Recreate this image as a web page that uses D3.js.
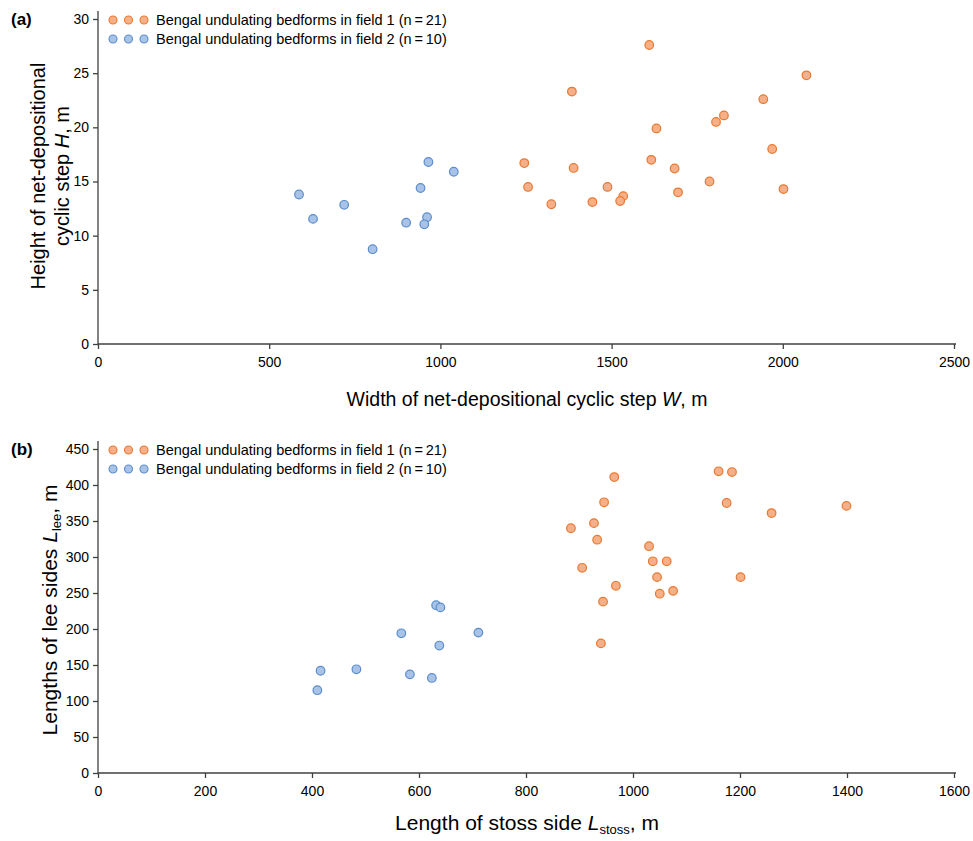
<!DOCTYPE html>
<html>
<head>
<meta charset="utf-8">
<script src="https://cdn.jsdelivr.net/npm/d3@7"></script>
<style>
  body { margin: 0; background: #fff; }
  text { font-family: "Liberation Sans", Arial, sans-serif; fill: #000; }
</style>
</head>
<body>
<script>
// panel (a): width W vs height H
var widthField1 = [1610, 1384, 2069, 1943, 1828, 1805, 1631, 1969, 1245, 1389, 1616,
                   1684, 1256, 1488, 1786, 2002, 1694, 1534, 1525, 1324, 1444];
var heightField1 = [27.6, 23.3, 24.8, 22.6, 21.1, 20.5, 19.9, 18.0, 16.7, 16.25, 17.0,
                    16.2, 14.5, 14.5, 15.0, 14.3, 14.0, 13.65, 13.2, 12.9, 13.1];
var widthField2 = [965, 1039, 942, 900, 961, 953, 802, 587, 628, 719];
var heightField2 = [16.8, 15.9, 14.4, 11.2, 11.7, 11.05, 8.75, 13.8, 11.55, 12.85];

// panel (b): stoss length vs lee length
var stossField1 = [884, 927, 933, 965, 946, 905, 968, 944, 940, 1030, 1037,
                   1063, 1045, 1050, 1075, 1160, 1185, 1175, 1259, 1201, 1399];
var leeField1 = [340, 347, 324, 411, 376, 285, 260, 238, 180, 315, 294,
                 294, 272, 249, 253, 419, 418, 375, 361, 272, 371];
var stossField2 = [410, 416, 483, 567, 583, 624, 632, 640, 638, 711];
var leeField2 = [115, 142, 144, 194, 137, 132, 233, 230, 177, 195];

var xTicksA = [0, 500, 1000, 1500, 2000, 2500];
var yTicksA = [0, 5, 10, 15, 20, 25, 30];
var xTicksB = [0, 200, 400, 600, 800, 1000, 1200, 1400, 1600];
var yTicksB = [0, 50, 100, 150, 200, 250, 300, 350, 400, 450];

var legendLabels = ["Bengal undulating bedforms in field 1 (n\u2009=\u200921)",
                    "Bengal undulating bedforms in field 2 (n\u2009=\u200910)"];

var orange = { fill: "#f5b08a", stroke: "#e8792f" };
var blue = { fill: "#a8c3e6", stroke: "#5b8dcc" };

var svg = d3.select("body").append("svg")
  .attr("width", 973)
  .attr("height", 841);

function zip(xs, ys) {
  return xs.map(function(d, i) { return [d, ys[i]]; });
}

function panel(opt) {
  var x = d3.scaleLinear().domain(opt.xDomain).range([98, 954]);
  var y = d3.scaleLinear().domain(opt.yDomain).range([opt.bottom, opt.top]);
  var g = svg.append("g");

  var xAxis = g.append("g")
    .attr("transform", "translate(0," + opt.bottom + ")")
    .call(d3.axisBottom(x).tickValues(opt.xTicks).tickFormat(d3.format("d"))
      .tickSize(5).tickSizeOuter(0));
  var yAxis = g.append("g")
    .attr("transform", "translate(98,0)")
    .call(d3.axisLeft(y).tickValues(opt.yTicks).tickFormat(d3.format("d"))
      .tickSize(5).tickSizeOuter(0));

  [xAxis, yAxis].forEach(function(a) {
    a.selectAll("path, line").attr("stroke", "#404040").attr("stroke-width", 1.3);
    a.selectAll("text").attr("font-size", 14)
      .attr("font-family", "'Liberation Sans', Arial, sans-serif").attr("fill", "#000");
  });
  xAxis.select(".domain").attr("d", "M98,0H956");
  yAxis.select(".domain").attr("d", "M0," + (opt.top - 8) + "V" + opt.bottom);
  xAxis.selectAll(".tick text").attr("dy", "1.05em");
  yAxis.selectAll(".tick text").attr("x", -9);

  // points
  var series = [{ data: zip(opt.x1, opt.y1), c: orange }, { data: zip(opt.x2, opt.y2), c: blue }];
  series.forEach(function(s) {
    g.append("g").selectAll("circle")
      .data(s.data)
      .enter().append("circle")
        .attr("cx", function(d) { return x(d[0]); })
        .attr("cy", function(d) { return y(d[1]); })
        .attr("r", 4.3)
        .attr("fill", s.c.fill)
        .attr("stroke", s.c.stroke)
        .attr("stroke-width", 1.2);
  });

  // legend
  var leg = g.append("g").attr("transform", "translate(0," + (opt.top + 1) + ")");
  [orange, blue].forEach(function(c, i) {
    [113, 128.5, 144].forEach(function(cx) {
      leg.append("circle").attr("cx", cx).attr("cy", i * 19).attr("r", 4)
        .attr("fill", c.fill).attr("stroke", c.stroke).attr("stroke-width", 1.1);
    });
    leg.append("text").attr("x", 156).attr("y", i * 19)
      .attr("dominant-baseline", "central").attr("font-size", 14.5)
      .text(legendLabels[i]);
  });

  // panel letter
  g.append("text").attr("x", 11).attr("y", opt.top + 6)
    .attr("font-size", 17).attr("font-weight", "bold").text(opt.letter);

  return { g: g, x: x, y: y };
}

var a = panel({
  xDomain: [0, 2500], yDomain: [0, 30], top: 19, bottom: 344,
  xTicks: xTicksA, yTicks: yTicksA,
  x1: widthField1, y1: heightField1, x2: widthField2, y2: heightField2,
  letter: "(a)"
});

var b = panel({
  xDomain: [0, 1600], yDomain: [0, 450], top: 449, bottom: 773,
  xTicks: xTicksB, yTicks: yTicksB,
  x1: stossField1, y1: leeField1, x2: stossField2, y2: leeField2,
  letter: "(b)"
});

// axis titles
var xa = a.g.append("text").attr("x", 527).attr("y", 406)
  .attr("text-anchor", "middle").attr("font-size", 19.5);
xa.append("tspan").text("Width of net-depositional cyclic step ");
xa.append("tspan").attr("font-style", "italic").text("W");
xa.append("tspan").text(", m");

var ya = a.g.append("text").attr("transform", "translate(0,176) rotate(-90)")
  .attr("text-anchor", "middle").attr("font-size", 20);
ya.append("tspan").attr("x", 0).attr("y", 45).text("Height of net-depositional");
var ya2 = ya.append("tspan").attr("x", 0).attr("y", 69);
ya2.append("tspan").text("cyclic step ");
ya2.append("tspan").attr("font-style", "italic").text("H");
ya2.append("tspan").text(", m");

var xb = b.g.append("text").attr("x", 527).attr("y", 830)
  .attr("text-anchor", "middle").attr("font-size", 21);
xb.append("tspan").text("Length of stoss side ");
xb.append("tspan").attr("font-style", "italic").text("L");
xb.append("tspan").attr("font-size", 13).attr("dy", 4).text("stoss");
xb.append("tspan").attr("dy", -4).text(", m");

var yb = b.g.append("text").attr("transform", "translate(57,610) rotate(-90)")
  .attr("text-anchor", "middle").attr("font-size", 21);
yb.append("tspan").text("Lengths of lee sides ");
yb.append("tspan").attr("font-style", "italic").text("L");
yb.append("tspan").attr("font-size", 13).attr("dy", 4).text("lee");
yb.append("tspan").attr("dy", -4).text(", m");
</script>
</body>
</html>
